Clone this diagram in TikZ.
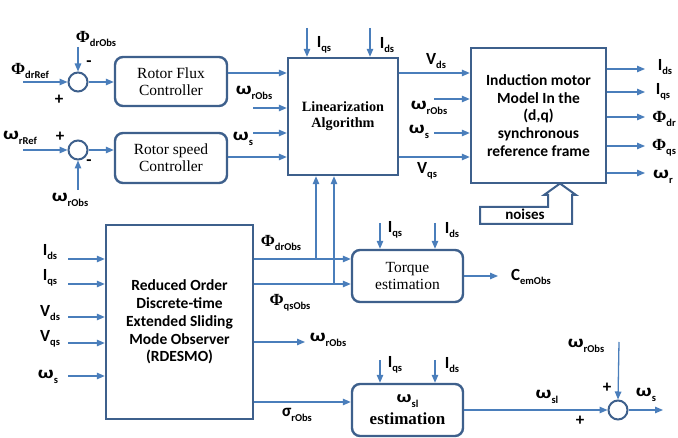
\documentclass[tikz,border=0pt]{standalone}
\usepackage{fontspec}
\setmainfont{Carlito}
\newfontfamily\serif{Liberation Serif}
\usetikzlibrary{arrows.meta}
\definecolor{lc}{RGB}{74,126,187}
\definecolor{bc}{RGB}{62,96,140}
\newcommand\sub[1]{\raisebox{-4.5pt}{\fontsize{10.5}{11}\selectfont\bfseries #1}}
\newcommand\om{\scalebox{1.3}[1]{\bfseries ω}}
\newcommand\ph{{\serif Φ}}
\newcommand\sig{{\bfseries σ}}
\begin{document}
\begin{tikzpicture}[x=1pt,y=-1pt,
 ln/.style={draw=lc,line width=1.3pt},
 ar/.style={ln,-{Triangle[length=8pt,width=6.5pt]}},
 bx/.style={draw=bc,line width=2.4pt,fill=white,align=center,inner sep=0pt},
 rbx/.style={bx,rounded corners=8pt},
 sm/.style={circle,draw=bc,line width=2pt,minimum size=19pt,inner sep=0pt},
 lb/.style={font=\fontsize{17}{17}\selectfont\bfseries,inner sep=0pt},
 tser/.style={font=\serif\fontsize{15.5}{17}\selectfont},
 tsb/.style={font=\bfseries\fontsize{15.5}{17.8}\selectfont}
]
\useasboundingbox (0,0) rectangle (678,438);

% boxes
\node[sm] (s1) at (78,82) {};
\node[sm] (s2) at (78,150) {};
\node[sm] (s3) at (618,410) {};
\node[rbx,minimum width=112pt,minimum height=49pt,tser] (flux) at (171,81.5) {Rotor Flux\\Controller};
\node[rbx,minimum width=112pt,minimum height=50pt,tser] (speed) at (171,158) {Rotor speed\\Controller};
\node[bx,minimum width=110pt,minimum height=117pt,font=\serif\bfseries\fontsize{14.2}{16}\selectfont] (lin) at (343,116.5) {Linearization\\Algorithm};
\node[bx,minimum width=135pt,minimum height=135pt,tsb] (mot) at (538.5,115.5) {Induction motor\\Model In the\\(d,q)\\synchronous\\reference frame};
\node[bx,minimum width=147pt,minimum height=194pt,tsb] (obs) at (179.5,322) {Reduced Order\\Discrete-time\\Extended Sliding\\Mode Observer\\(RDESMO)};
\node[rbx,minimum width=111pt,minimum height=52pt,tser] (torq) at (407.5,276) {Torque\\estimation};
\node[rbx,minimum width=111pt,minimum height=52pt,font=\fontsize{16}{22}\selectfont] (wsl) at (407.5,410) {\om\sub{sl}\\{\serif\bfseries\fontsize{17}{18}\selectfont estimation}};

% noises block arrow
\draw[draw=bc,line width=2pt,fill=white] (480,207) -- (480,224) -- (572,224) -- (572,195) -- (576,195) -- (560,183.5) -- (544,195) -- (548,195) -- (548,207) -- cycle;
\node[font=\bfseries\fontsize{15}{15}\selectfont] (noi) at (525,214) {noises};

% coordinates
\coordinate (a1) at (23,82);
\coordinate (a2) at (78,47);
\coordinate (a3) at (23,150);
\coordinate (a4) at (78,190);
\coordinate (a5) at (253,108);
\coordinate (a6) at (253,133);
\coordinate (a7) at (307,28);
\coordinate (a8) at (370,28);
\coordinate (a9) at (434,99);
\coordinate (a10) at (434,133);
\coordinate (a11) at (619,342);
\coordinate (ja) at (316,259);
\coordinate (jb) at (334,284);

% left part
\draw[ar] (a1) -- (s1.west);
\draw[ar] (a2) -- (s1.north);
\draw[ar] (s1.east) -- (flux.west |- s1);
\draw[ar] (a3) -- (s2.west);
\draw[ar] (a4) -- (s2.south);
\draw[ar] (s2.east) -- (speed.west |- s2);
\draw[ar] (flux.east |- 0,73) -- (lin.west |- 0,73);
\draw[ar] (a5) -- (lin.west |- a5);
\draw[ar] (a6) -- (lin.west |- a6);
\draw[ar] (speed.east |- 0,157) -- (lin.west |- 0,157);
\draw[ar] (a7) -- (lin.north -| a7);
\draw[ar] (a8) -- (lin.north -| a8);

% to motor
\draw[ar] (lin.east |- 0,73) -- (mot.west |- 0,73);
\draw[ar] (a9) -- (mot.west |- a9);
\draw[ar] (a10) -- (mot.west |- a10);
\draw[ar] (lin.east |- 0,157) -- (mot.west |- 0,157);
\foreach \yy/\nn in {69/o1,92/o2,117/o3,146/o4,173/o5}{
  \coordinate (\nn) at (645,\yy);
  \draw[ar] (mot.east |- \nn) -- (\nn);
}

% observer inputs
\foreach \yy/\nn in {259/i1,284/i2,317/i3,343/i4,376/i5}{
  \coordinate (\nn) at (68,\yy);
  \draw[ar] (\nn) -- (obs.west |- \nn);
}
% observer outputs
\draw[ar] (obs.east |- ja) -- (torq.west |- ja);
\draw[ar] (obs.east |- jb) -- (torq.west |- jb);
\draw[ar] (ja) -- (lin.south -| ja);
\draw[ar] (jb) -- (lin.south -| jb);
\coordinate (wo) at (305,342);
\draw[ar] (obs.east |- wo) -- (wo);
\draw[ar] (obs.east |- 0,402) -- (wsl.west |- 0,402);

% torque
\coordinate (t1) at (380,223);
\coordinate (t2) at (435,223);
\draw[ar] (t1) -- (torq.north -| t1);
\draw[ar] (t2) -- (torq.north -| t2);
\coordinate (tc) at (498,276);
\draw[ar] (torq.east |- tc) -- (tc);

% slip
\coordinate (w1) at (380,360);
\coordinate (w2) at (435,360);
\draw[ar] (w1) -- (wsl.north -| w1);
\draw[ar] (w2) -- (wsl.north -| w2);
\draw[ar] (wsl.east |- s3) -- (s3.west);
\draw[ar] (a11) -- (s3.north);
\coordinate (so) at (663,410);
\draw[ar] (s3.east) -- (so);

% labels
\node[lb] (l1) at (96,39) {\ph\sub{drObs}};
\node[lb] (l2) at (89,64) {-};
\node[lb] (l3) at (59,100) {+};
\node[lb] (l4) at (30,71) {\ph\sub{drRef}};
\node[lb] (l5) at (20,138) {\om\sub{rRef}};
\node[lb] (l6) at (60,137) {+};
\node[lb] (l7) at (89,163) {-};
\node[lb] (l8) at (70,200) {\om\sub{rObs}};
\node[lb] (l9) at (254,93) {\om\sub{rObs}};
\node[lb] (l10) at (243,139) {\om\sub{s}};
\node[lb] (l11) at (324,45) {I\sub{qs}};
\node[lb] (l12) at (387,45) {I\sub{ds}};
\node[lb] (l13) at (436,61) {V\sub{ds}};
\node[lb] (l14) at (429,108) {\om\sub{rObs}};
\node[lb] (l15) at (419,132) {\om\sub{s}};
\node[lb] (l16) at (427,171) {V\sub{qs}};
\node[lb] (l17) at (665,67) {I\sub{ds}};
\node[lb] (l18) at (663,92) {I\sub{qs}};
\node[lb] (l19) at (664,119) {\ph\sub{dr}};
\node[lb] (l20) at (664,148) {\ph\sub{qs}};
\node[lb] (l21) at (663,177) {\om\sub{r}};
\node[lb] (l22) at (50,252) {I\sub{ds}};
\node[lb] (l23) at (50,278) {I\sub{qs}};
\node[lb] (l24) at (50,313) {V\sub{ds}};
\node[lb] (l25) at (50,339) {V\sub{qs}};
\node[lb] (l26) at (48,377) {\om\sub{s}};
\node[lb] (l27) at (281,243) {\ph\sub{drObs}};
\node[lb] (l28) at (290,303) {\ph\sub{qsObs}};
\node[lb] (l29) at (328,340) {\om\sub{rObs}};
\node[lb] (l30) at (297,415) {\sig\sub{rObs}};
\node[lb] (l31) at (395,230) {I\sub{qs}};
\node[lb] (l32) at (452,230) {I\sub{ds}};
\node[lb] (l33) at (531,277) {C\sub{emObs}};
\node[lb] (l34) at (395,365) {I\sub{qs}};
\node[lb] (l35) at (452,365) {I\sub{ds}};
\node[lb] (l36) at (547,397) {\om\sub{sl}};
\node[lb] (l37) at (580,421) {+};
\node[lb] (l38) at (607,388) {+};
\node[lb] (l39) at (586,346) {\om\sub{rObs}};
\node[lb] (l40) at (646,395) {\om\sub{s}};
\end{tikzpicture}
\end{document}
